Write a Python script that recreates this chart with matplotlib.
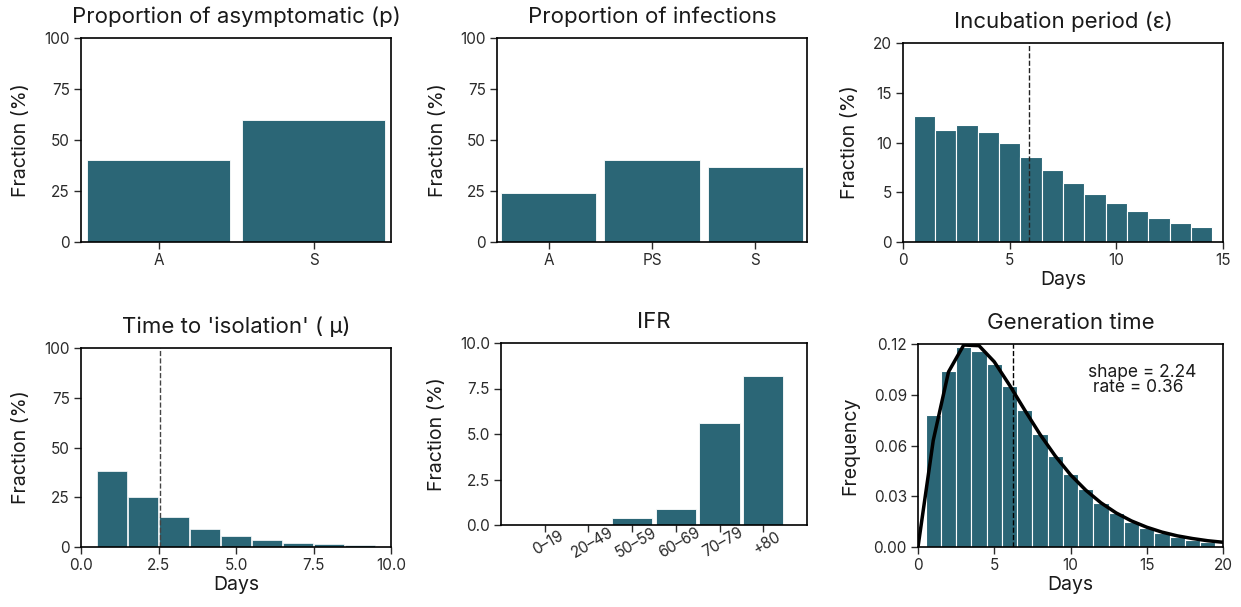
import numpy as np
import matplotlib
matplotlib.use("Agg")
import matplotlib.pyplot as plt

plt.rcParams['font.family'] = ['Inter', 'DejaVu Sans']
plt.rcParams['axes.edgecolor'] = 'black'
plt.rcParams['axes.linewidth'] = 1.2
plt.rcParams['xtick.color'] = '#2a2a2a'
plt.rcParams['ytick.color'] = '#2a2a2a'
plt.rcParams['text.color'] = '#1a1a1a'
plt.rcParams['axes.labelcolor'] = '#1a1a1a'
plt.rcParams['xtick.labelsize'] = 11
plt.rcParams['ytick.labelsize'] = 11

color = '#2b6676'

# datos
asint_cat = ["A", "S"]
asint_val = [40, 60]

infec_cat = ["A", "PS", "S"]
infec_val = [24, 40, 37]

incub_dias = list(range(1, 15))
incub_val = [12.7, 11.3, 11.8, 11.1, 9.9, 8.5, 7.2, 5.9, 4.8, 3.9, 3.1, 2.4, 1.9, 1.5]
incub_media = 5.9

aisl_dias = list(range(1, 10))
aisl_val = [38, 25, 15, 9, 5.5, 3.4, 2.2, 1.5, 1.0]
aisl_media = 2.55

ifr_cat = ["0\u201319", "20\u201349", "50\u201359", "60\u201369", "70\u201379", "+80"]
ifr_val = [0.01, 0.04, 0.38, 0.9, 5.6, 8.2]

gen_dias = list(range(1, 20))
gen_val = [0.078, 0.104, 0.118, 0.116, 0.108, 0.095, 0.081, 0.067, 0.054, 0.043,
           0.034, 0.026, 0.020, 0.015, 0.011, 0.008, 0.006, 0.004, 0.003]
curva_x = list(range(0, 21))
curva_y = [0.0, 0.063, 0.1035, 0.1194, 0.119, 0.1095, 0.0957, 0.0809, 0.0666, 0.0538,
           0.0427, 0.0336, 0.0261, 0.0201, 0.0154, 0.0117, 0.0088, 0.0066, 0.005,
           0.0037, 0.0028]
gen_media = 6.22

W, H = 1241, 607
fig = plt.figure(figsize=(W / 100, H / 100), dpi=100)


def ejes(izq, der, arriba, abajo):
    return fig.add_axes([izq / W, 1 - abajo / H, (der - izq) / W, (abajo - arriba) / H])


def estilo(ax, titulo, ylabel, xlabel=None):
    ax.set_title(titulo, fontsize=16, pad=11)
    ax.set_ylabel(ylabel, fontsize=14, labelpad=10)
    if xlabel:
        ax.set_xlabel(xlabel, fontsize=14, labelpad=2)
    ax.tick_params(axis='both', length=5, width=1, pad=3)


# 1
ax = ejes(81, 391, 38, 242)
ax.bar(range(len(asint_cat)), asint_val, width=0.92, color=color, edgecolor='white', linewidth=0.6)
ax.set_xticks(range(len(asint_cat)))
ax.set_xticklabels(asint_cat)
ax.set_xlim(-0.5, 1.5)
ax.set_ylim(0, 100)
ax.set_yticks([0, 25, 50, 75, 100])
estilo(ax, "Proportion of asymptomatic (p)", "Fraction (%)")

# 2
ax = ejes(497, 807, 38, 242)
ax.bar(range(len(infec_cat)), infec_val, width=0.92, color=color, edgecolor='white', linewidth=0.6)
ax.set_xticks(range(len(infec_cat)))
ax.set_xticklabels(infec_cat)
ax.set_xlim(-0.5, 2.5)
ax.set_ylim(0, 100)
ax.set_yticks([0, 25, 50, 75, 100])
estilo(ax, "Proportion of infections", "Fraction (%)")

# 3
ax = ejes(903, 1223, 43, 242)
ax.bar(incub_dias, incub_val, width=1.0, color=color, edgecolor='white', linewidth=0.8)
ax.axvline(incub_media, color='#222222', linestyle='--', linewidth=1)
ax.set_xlim(0, 15)
ax.set_ylim(0, 20)
ax.set_xticks([0, 5, 10, 15])
ax.set_yticks([0, 5, 10, 15, 20])
estilo(ax, "Incubation period (\u03b5)", "Fraction (%)", "Days")

# 4
ax = ejes(81, 391, 348, 547)
ax.bar(aisl_dias, aisl_val, width=0.96, color=color, edgecolor='white', linewidth=0.5)
ax.axvline(aisl_media, color='#444444', linestyle='--', linewidth=1)
ax.set_xlim(0, 10)
ax.set_ylim(0, 100)
ax.set_xticks([0, 2.5, 5, 7.5, 10])
ax.set_xticklabels(["0.0", "2.5", "5.0", "7.5", "10.0"])
ax.set_yticks([0, 25, 50, 75, 100])
estilo(ax, "Time to 'isolation' ( \u03bc)", "Fraction (%)", "Days")

# 5
ax = ejes(501, 807, 343, 525)
ax.bar(range(len(ifr_cat)), ifr_val, width=0.92, color=color, edgecolor='white', linewidth=0.6)
ax.set_xticks(range(len(ifr_cat)))
ax.set_xticklabels(ifr_cat, rotation=30, ha='right', rotation_mode='anchor')
ax.set_xlim(-1, 6)
ax.set_ylim(0, 10)
ax.set_yticks([0, 2.5, 5, 7.5, 10])
ax.set_yticklabels(["0.0", "2.5", "5.0", "7.5", "10.0"])
estilo(ax, "IFR", "Fraction (%)")
for lab in ax.get_xticklabels():
    lab.set_ha('center')

# 6
ax = ejes(918, 1223, 344, 547)
ax.bar(gen_dias, gen_val, width=1.0, color=color, edgecolor='white', linewidth=0.8)
ax.plot(curva_x, curva_y, color='black', linewidth=2.5)
ax.axvline(gen_media, color='black', linestyle='--', linewidth=1)
ax.text(11.15, 0.0985, "shape = 2.24\n rate = 0.36", fontsize=12.5, va='center', linespacing=0.85)
ax.set_xlim(0, 20)
ax.set_ylim(0, 0.12)
ax.set_xticks([0, 5, 10, 15, 20])
ax.set_yticks([0, 0.03, 0.06, 0.09, 0.12])
ax.set_yticklabels(["0.00", "0.03", "0.06", "0.09", "0.12"])
estilo(ax, "Generation time", "Frequency", "Days")

fig.savefig("out.png", dpi=100)
